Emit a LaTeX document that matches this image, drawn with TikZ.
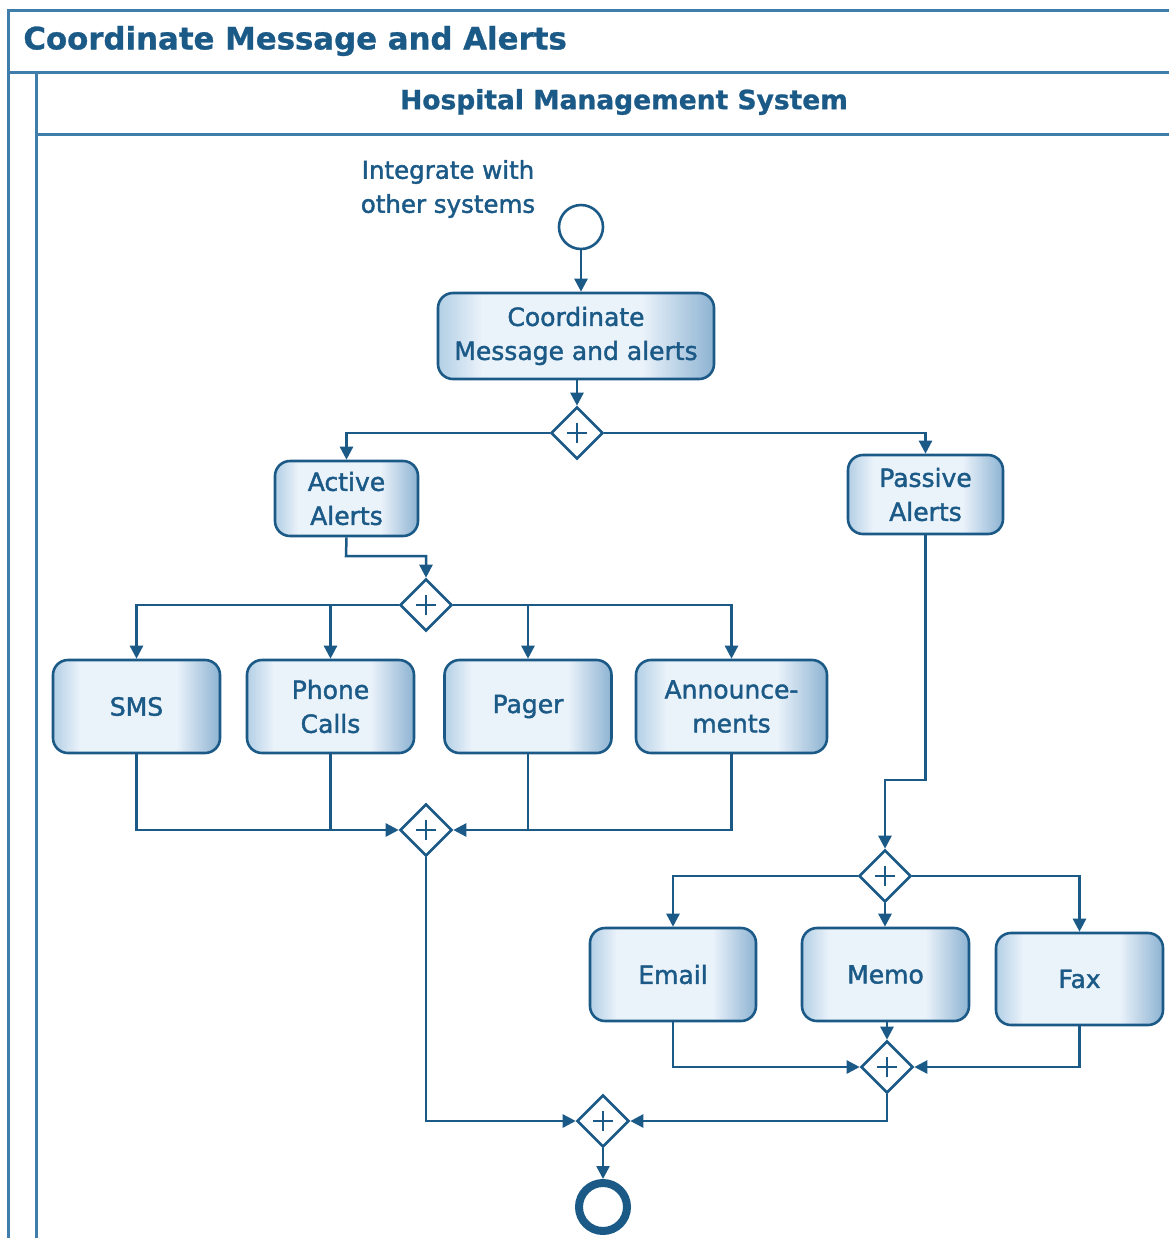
\documentclass[tikz,border=0pt]{standalone}
\usepackage{fontspec}
\setmainfont{DejaVu Sans}
\newfontfamily\labelfont{DejaVu Sans}[FakeBold=1.6]
\newfontfamily\headfont{DejaVu Sans Bold}[FakeBold=1.0]
\usetikzlibrary{shapes.geometric,arrows.meta,calc}
\definecolor{ink}{HTML}{1B5A87}
\definecolor{framec}{HTML}{3F7DAA}
\definecolor{edgeL}{HTML}{B3CFE5}
\definecolor{edgeR}{HTML}{8DB3D2}
\definecolor{boxmid}{HTML}{EAF2FA}
% task fill: darker at both sides, a broad pale band in the middle
\pgfdeclarehorizontalshading{taskshade}{100bp}{%
  color(0bp)=(edgeL); color(25bp)=(edgeL); color(33bp)=(boxmid);
  color(62bp)=(boxmid); color(75bp)=(edgeR); color(100bp)=(edgeR)}

\begin{document}
\begin{tikzpicture}[x=0.5pt,y=-0.5pt,
  task/.style={rectangle, rounded corners=7.5pt, draw=ink, line width=1.3pt,
    shading=taskshade, text=ink, align=center, inner sep=0pt,
    font=\labelfont\fontsize{12.5pt}{17pt}\selectfont},
  gate/.style={diamond, draw=ink, line width=1.3pt, fill=white,
    minimum width=26pt, minimum height=26pt, inner sep=0pt,
    path picture={\draw[ink,line width=1.1pt]
      ([xshift=-5pt]path picture bounding box.center) -- ([xshift=5pt]path picture bounding box.center)
      ([yshift=-5pt]path picture bounding box.center) -- ([yshift=5pt]path picture bounding box.center);}},
  flow/.style={draw=ink, line width=1.25pt, -{Triangle[length=6.5pt,width=6.5pt]}},
  link/.style={draw=ink, line width=1.25pt},
  frameline/.style={draw=framec, line width=1.5pt},
  label/.style={text=ink, inner sep=0pt, align=center},
]
\useasboundingbox (0,0) rectangle (1169,1238);

% pool and lane frame
\draw[frameline] (8,1238) -- (8,10) -- (1169,10);
\draw[frameline] (8,72) -- (1169,72);
\draw[frameline] (36,72) -- (36,1238);
\draw[frameline] (36,134) -- (1169,134);
\node[label, anchor=west, font=\headfont\fontsize{15.4pt}{18pt}\selectfont] (pooltitle) at (23,41) {Coordinate Message and Alerts};
\node[label, font=\headfont\fontsize{13.25pt}{16pt}\selectfont] (lanetitle) at (624,102) {Hospital Management System};

% events
\node[circle, draw=ink, line width=1.3pt, minimum size=22pt, inner sep=0pt] (start) at (581,227) {};
\node[label, font=\labelfont\fontsize{12.25pt}{17pt}\selectfont] (startlabel) at (448,189) {Integrate with\\other systems};
\node[circle, draw=ink, line width=4pt, minimum size=24pt, inner sep=0pt] (end) at (603,1207) {};

% tasks
\node[task, minimum width=138pt, minimum height=43pt] (coord) at (576,336) {Coordinate\\Message and alerts};
\node[task, minimum width=71.5pt, minimum height=37.5pt] (active) at (346.5,498.5) {Active\\Alerts};
\node[task, minimum width=77.5pt, minimum height=39.5pt] (passive) at (925.5,494.5) {Passive\\Alerts};
\node[task, minimum width=83.5pt, minimum height=46.5pt] (sms) at (136.5,706.5) {SMS};
\node[task, minimum width=83.5pt, minimum height=46.5pt] (phone) at (330.5,706.5) {Phone\\Calls};
\node[task, minimum width=83.5pt, minimum height=46.5pt] (pager) at (528,706.5) {Pager};
\node[task, minimum width=95.5pt, minimum height=46.5pt] (announce) at (731.5,706.5) {Announce-\\ments};
\node[task, minimum width=83pt, minimum height=46.5pt] (email) at (673,974.5) {Email};
\node[task, minimum width=83.5pt, minimum height=46.5pt] (memo) at (885.5,974.5) {Memo};
\node[task, minimum width=83.5pt, minimum height=46pt] (fax) at (1079.5,979) {Fax};

% gateways
\node[gate] (g1) at (577,433) {};
\node[gate] (g2) at (426,605) {};
\node[gate] (g3) at (426,830) {};
\node[gate] (g4) at (885,876) {};
\node[gate] (g5) at (603,1121) {};
\node[gate] (g6) at (887,1067) {};

\coordinate (activebend) at (346,556);
\coordinate (passivebend) at (885,780);

% flows
\draw[flow] (start.south) -- (start.south |- coord.north);
\draw[flow] (coord.south -| g1.north) -- (g1.north);
\draw[flow] (g1.west) -| (active.north);
\draw[flow] (g1.east) -| (passive.north);

\draw[flow] (active.south) -- (activebend) -| (g2.north);
\draw[flow] (g2.west) -| (sms.north);
\draw[flow] (phone.north |- g2.west) -- (phone.north);
\draw[flow] (g2.east) -| (announce.north);
\draw[flow] (pager.north |- g2.east) -- (pager.north);

\draw[flow] (sms.south) |- (g3.west);
\draw[link] (phone.south) -- (phone.south |- g3.west);
\draw[flow] (announce.south) |- (g3.east);
\draw[link] (pager.south) -- (pager.south |- g3.east);
\draw[flow] (g3.south) |- (g5.west);

\draw[flow] (passive.south) |- (passivebend) -- (g4.north);
\draw[flow] (g4.west) -| (email.north);
\draw[flow] (g4.south) -- (g4.south |- memo.north);
\draw[flow] (g4.east) -| (fax.north);

\draw[flow] (email.south) |- (g6.west);
\draw[flow] (memo.south -| g6.north) -- (g6.north);
\draw[flow] (fax.south) |- (g6.east);
\draw[flow] (g6.south) |- (g5.east);
\draw[flow] (g5.south) -- (end.north);
\end{tikzpicture}
\end{document}
